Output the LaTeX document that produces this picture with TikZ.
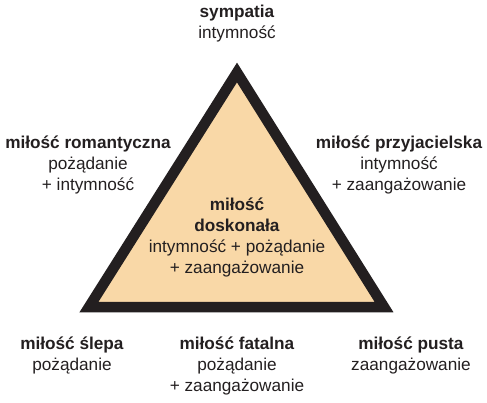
\documentclass[tikz,border=0pt]{standalone}
\usepackage{fontspec}
\setmainfont{Liberation Sans}
\definecolor{peach}{HTML}{F9D8A7}
\definecolor{edge}{HTML}{231F20}
\begin{document}
\begin{tikzpicture}[x=1pt,y=-1pt,
  lbl/.style={align=center,font=\fontsize{17.2}{21}\selectfont,text=edge,inner sep=0pt},
  tri/.style={draw=edge,fill=peach,line width=10.5pt,line join=miter}]
\useasboundingbox (0,0) rectangle (487,402);
\coordinate (apex) at (237,72.5);
\coordinate (bl) at (89,307);
\coordinate (br) at (384,307);
\draw[tri] (apex) -- (bl) -- (br) -- cycle;
\node[lbl] (symp) at (237,23.5) {\textbf{sympatia}\\intymność};
\node[lbl] (rom) at (88,164.5) {\textbf{miłość romantyczna}\\pożądanie\\+ intymność};
\node[lbl] (przy) at (399,164.5) {\textbf{miłość przyjacielska}\\intymność\\+ zaangażowanie};
\node[lbl] (dosk) at (237,237.5) {\textbf{miłość}\\\textbf{doskonała}\\intymność + pożądanie\\+ zaangażowanie};
\node[lbl] (slepa) at (72,355.5) {\textbf{miłość ślepa}\\pożądanie};
\node[lbl] (fat) at (237,366) {\textbf{miłość fatalna}\\pożądanie\\+ zaangażowanie};
\node[lbl] (pusta) at (411,355.5) {\textbf{miłość pusta}\\zaangażowanie};
\end{tikzpicture}
\end{document}
